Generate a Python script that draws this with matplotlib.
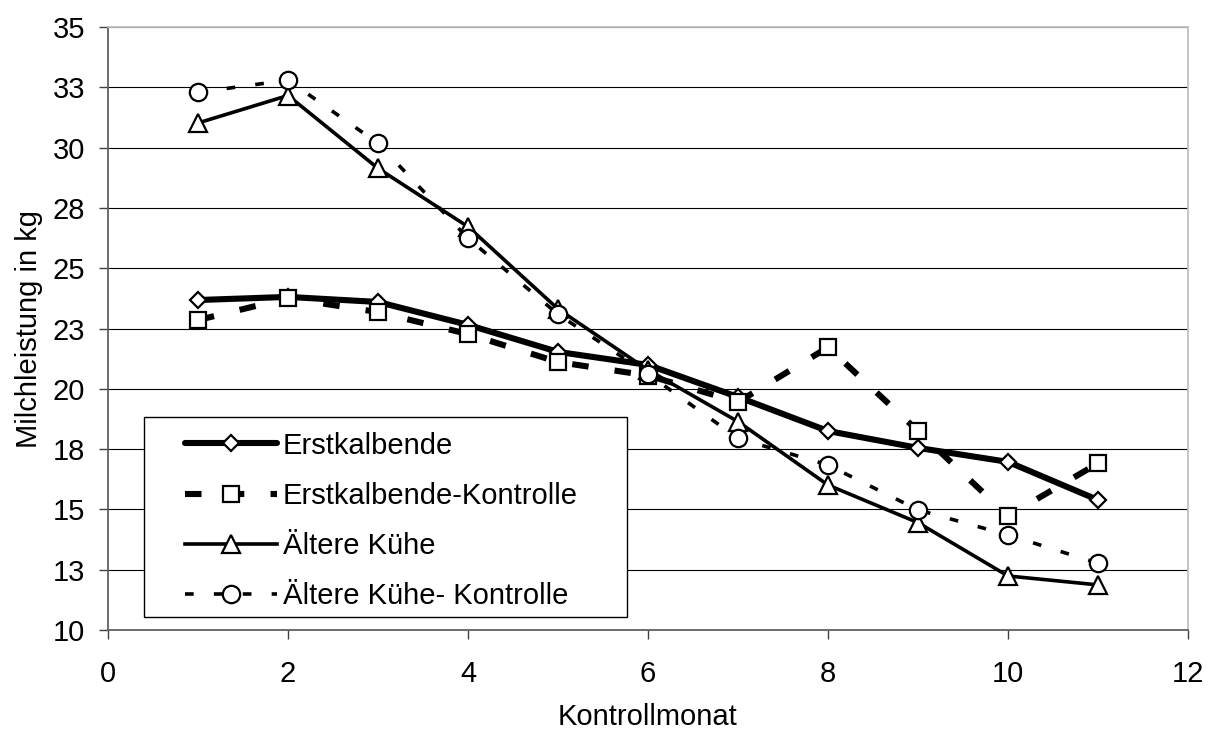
import matplotlib
matplotlib.use("Agg")
import matplotlib.pyplot as plt
from matplotlib.patches import Rectangle

plt.rcParams['font.family'] = ['Liberation Sans', 'DejaVu Sans']

months = [1, 2, 3, 4, 5, 6, 7, 8, 9, 10, 11]
erstkalbende = [23.68, 23.81, 23.6, 22.65, 21.53, 20.99, 19.66, 18.25, 17.55, 16.97, 15.39]
erstkalbende_kontrolle = [22.85, 23.76, 23.18, 22.27, 21.11, 20.55, 19.45, 21.72, 18.25, 14.73, 16.91]
aeltere_kuehe = [31.02, 32.16, 29.14, 26.72, 23.31, 20.78, 18.64, 16.01, 14.45, 12.24, 11.87]
aeltere_kuehe_kontrolle = [32.29, 32.8, 30.18, 26.24, 23.09, 20.61, 17.95, 16.84, 14.98, 13.94, 12.77]

labels = ["Erstkalbende", "Erstkalbende-Kontrolle", "Ältere Kühe", "Ältere Kühe- Kontrolle"]
y_ticks = [10, 12.5, 15, 17.5, 20, 22.5, 25, 27.5, 30, 32.5, 35]
y_ticklabels = ["10", "13", "15", "18", "20", "23", "25", "28", "30", "33", "35"]
x_ticks = [0, 2, 4, 6, 8, 10, 12]

FS = 21

fig = plt.figure(figsize=(12.09, 7.34), dpi=100)
ax = fig.add_axes([108/1209, 1-630/734, 1080/1209, 603/734])

mk = dict(markerfacecolor='white', markeredgecolor='black', markeredgewidth=1.6)
ax.plot(months, erstkalbende, color='black', lw=4.4, marker='D', ms=8.6,
        solid_capstyle='round', label=labels[0], zorder=3, **mk)
ax.plot(months, erstkalbende_kontrolle, color='black', lw=4.4, marker='s', ms=12,
        dashes=(2.7, 4.3), label=labels[1], zorder=3, **mk)
ax.plot(months, aeltere_kuehe, color='black', lw=2.6, marker='^', ms=12.5,
        label=labels[2], zorder=3, **mk)
ax.plot(months, aeltere_kuehe_kontrolle, color='black', lw=2.6, marker='o', ms=12.5,
        dashes=(2.4, 5.6), label=labels[3], zorder=3, **mk)

ax.set_xlim(0, 12)
ax.set_ylim(10, 35)
ax.set_xticks(x_ticks)
ax.set_yticks(y_ticks)
ax.set_yticklabels(y_ticklabels)
ax.tick_params(axis='both', labelsize=FS, direction='out', length=6.5, width=1,
               color='#404040')
ax.tick_params(axis='y', pad=10)
ax.tick_params(axis='x', pad=15)
ax.grid(axis='y', color='black', lw=0.8, zorder=1)
ax.set_axisbelow(True)

for s in ['left', 'bottom']:
    ax.spines[s].set_color('#606060')
    ax.spines[s].set_linewidth(1.3)
for s in ['top', 'right']:
    ax.spines[s].set_color('#c0c0c0')
    ax.spines[s].set_linewidth(1.3)

ax.set_xlabel("Kontrollmonat", fontsize=FS, labelpad=11)
ax.set_ylabel("Milchleistung in kg", fontsize=FS, labelpad=7)

# legend frame
ax.add_patch(Rectangle((0.0333, 0.02156), 0.4473, 0.3316, transform=ax.transAxes,
                       facecolor='white', edgecolor='black', lw=1.0, zorder=2.5))
leg = ax.legend(loc='upper left', bbox_to_anchor=(0.0713, 0.329),
                fontsize=FS, frameon=False,
                handlelength=3.15, handletextpad=0.2, labelspacing=0.76,
                borderpad=0, borderaxespad=0)
leg.set_zorder(4)

fig.savefig("out.png", dpi=100, facecolor='white')
